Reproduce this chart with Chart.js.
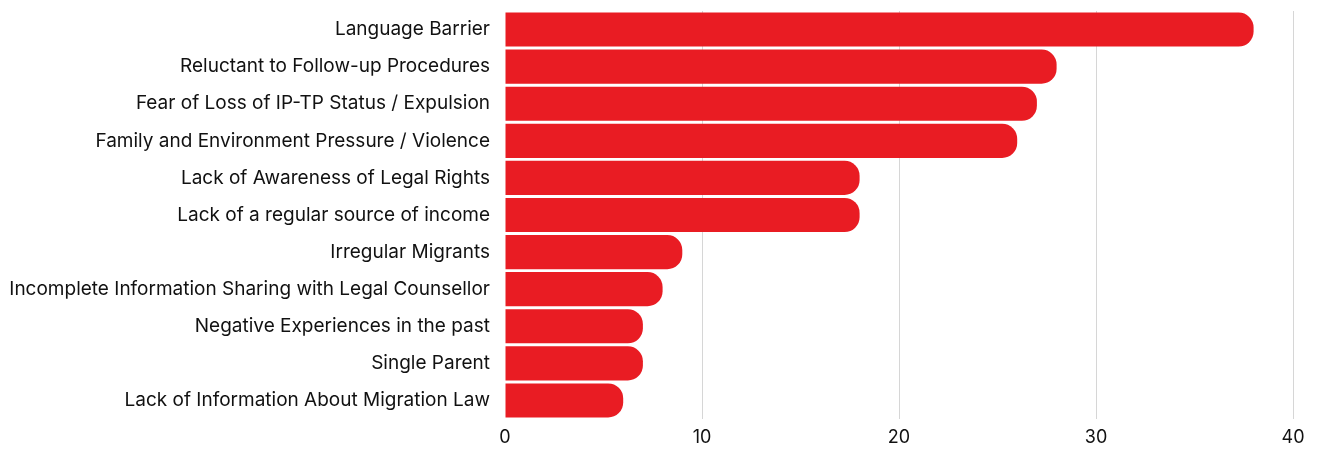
<!DOCTYPE html>
<html>
<head>
<meta charset="utf-8">
<script src="https://cdn.jsdelivr.net/npm/chart.js@4/dist/chart.umd.min.js"></script>
<style>
  html, body { margin: 0; padding: 0; background: #fff; }
  #wrap { width: 1319px; height: 449px; position: relative; }
</style>
</head>
<body>
<div id="wrap"><canvas id="barriersChart"></canvas></div>
<script>
// Chart data
const categories = [
    'Language Barrier',
    'Reluctant to Follow-up Procedures',
    'Fear of Loss of IP-TP Status / Expulsion',
    'Family and Environment Pressure / Violence',
    'Lack of Awareness of Legal Rights',
    'Lack of a regular source of income',
    'Irregular Migrants',
    'Incomplete Information Sharing with Legal Counsellor',
    'Negative Experiences in the past',
    'Single Parent',
    'Lack of Information About Migration Law'
];
const counts = [38, 28, 27, 26, 18, 18, 9, 8, 7, 7, 6];
const xTicks = [0, 10, 20, 30, 40];

const fontFamily = 'Inter, "Noto Sans", sans-serif';

new Chart(document.getElementById('barriersChart'), {
    type: 'bar',
    data: {
        labels: categories,
        datasets: [{
            data: counts,
            backgroundColor: '#e91c23',
            borderSkipped: 'start',
            borderRadius: { topRight: 15, bottomRight: 15, topLeft: 0, bottomLeft: 0 },
            barPercentage: 0.92,
            categoryPercentage: 1
        }]
    },
    options: {
        indexAxis: 'y',
        responsive: true,
        maintainAspectRatio: false,
        animation: false,
        layout: { padding: { top: 11, right: 26, left: 0, bottom: 0 } },
        plugins: {
            legend: { display: false },
            tooltip: { enabled: false }
        },
        scales: {
            x: {
                min: 0,
                max: 40,
                afterBuildTicks: function(scale) {
                    scale.ticks = xTicks.map(v => ({ value: v }));
                },
                afterFit: function(scale) { scale.height = 30; },
                border: { display: false },
                grid: {
                    color: function(ctx) { return ctx.tick && ctx.tick.value === 0 ? 'rgba(0,0,0,0)' : '#d6d6d6'; },
                    lineWidth: 1,
                    drawTicks: false
                },
                ticks: {
                    color: '#111',
                    padding: 8,
                    font: { family: fontFamily, size: 18 }
                }
            },
            y: {
                afterFit: function(scale) {
                    scale.width = 505;
                    scale.paddingTop = 0;
                    scale.paddingBottom = 0;
                },
                border: { display: false },
                grid: { display: false },
                ticks: {
                    color: '#111',
                    padding: 7,
                    font: { family: fontFamily, size: 19 }
                }
            }
        }
    }
});
</script>
</body>
</html>
